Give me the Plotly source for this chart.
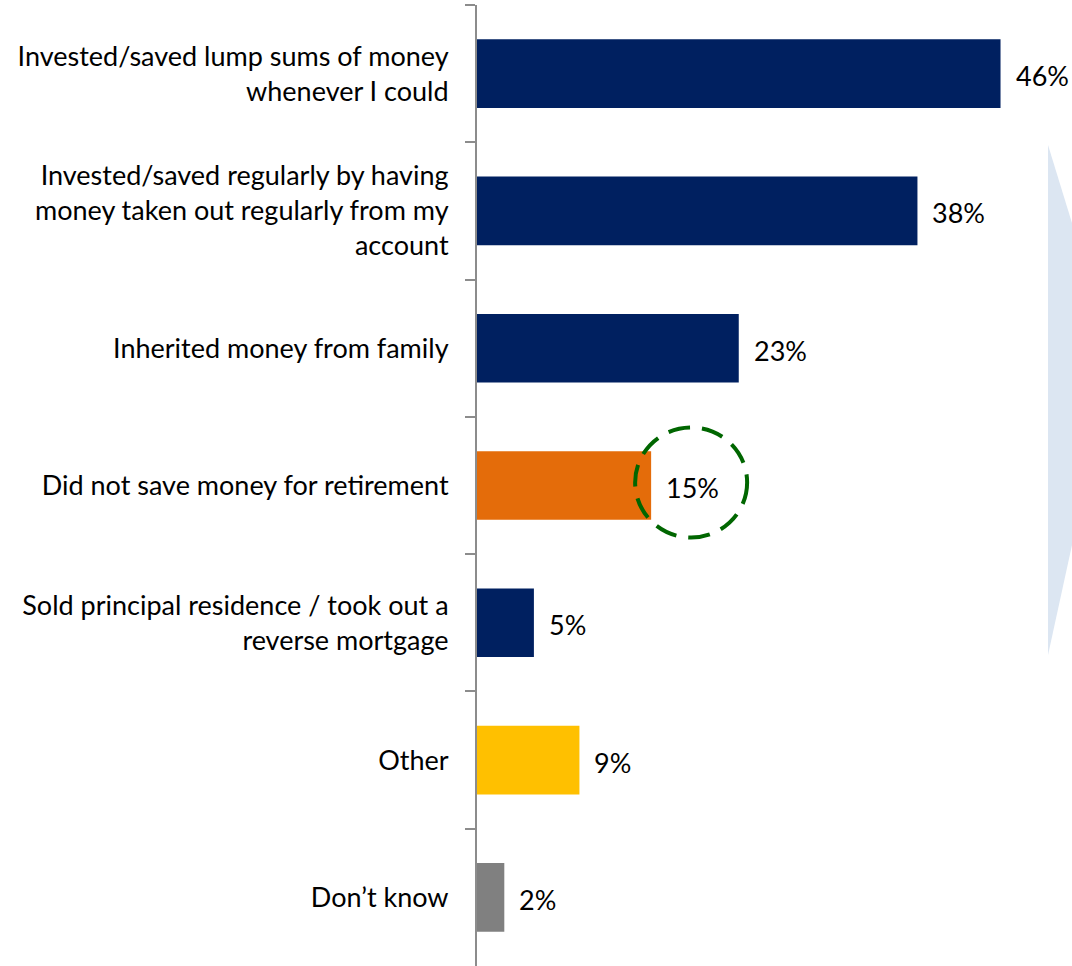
import plotly.graph_objects as go

categories = [
    "Invested/saved lump sums of money<br>whenever I could",
    "Invested/saved regularly by having<br>money taken out regularly from my<br>account",
    "Inherited money from family",
    "Did not save money for retirement",
    "Sold principal residence / took out a<br>reverse mortgage",
    "Other",
    "Don\u2019t know",
]
values = [46, 38.7, 23, 15.3, 5, 9, 2.4]
value_labels = ["46%", "38%", "23%", "15%", "5%", "9%", "2%"]
bar_colors = ["#002060", "#002060", "#002060", "#E46C0A", "#002060", "#FFC000", "#808080"]
highlight = 3  # the bar that gets the dashed circle

fig = go.Figure()
fig.add_trace(go.Bar(
    x=values, y=categories, orientation="h",
    marker=dict(color=bar_colors, line=dict(width=0)),
    hoverinfo="skip",
))

# value labels next to each bar
for cat, v, lab in zip(categories, values, value_labels):
    fig.add_annotation(x=v, y=cat, text=lab, showarrow=False,
                       xanchor="left", xshift=13, yshift=-2,
                       font=dict(family="Lato", size=27, color="#000000"))

# big pale arrow shape on the right (decoration, cut off by the page edge)
fig.add_shape(type="path", xref="paper", yref="paper", layer="below",
              path="M 0.9597 0.8543 L 1 0.7732 L 1 0.4381 L 0.9597 0.3236 Z",
              fillcolor="#DCE6F2", line=dict(width=0))

# dashed circle around the highlighted label
fig.add_shape(type="circle", xref="x", yref="y",
              xsizemode="pixel", ysizemode="pixel",
              xanchor=values[highlight], yanchor=categories[highlight],
              x0=-16, x1=96, y0=-52, y1=58,
              line=dict(color="#006600", width=4, dash="22px,12px"))

fig.update_yaxes(
    autorange="reversed",
    showline=True, linecolor="#8C8C8C", linewidth=2,
    ticks="outside", tickson="boundaries", ticklen=10, tickcolor="#8C8C8C", tickwidth=2,
    tickfont=dict(family="Lato", size=27, color="#000000"),
    ticklabelstandoff=21,
)
fig.update_xaxes(visible=False, range=[0, 52.28])
fig.update_layout(
    width=1072, height=966,
    bargap=0.5,
    showlegend=False,
    plot_bgcolor="white", paper_bgcolor="white",
    margin=dict(l=477, r=0, t=5, b=0, pad=0),
)
# drop the default page margin so the chart sits at the window corner
fig.write_html("out.html", config={'displayModeBar': False},
               post_script="document.body.style.margin='0';")
